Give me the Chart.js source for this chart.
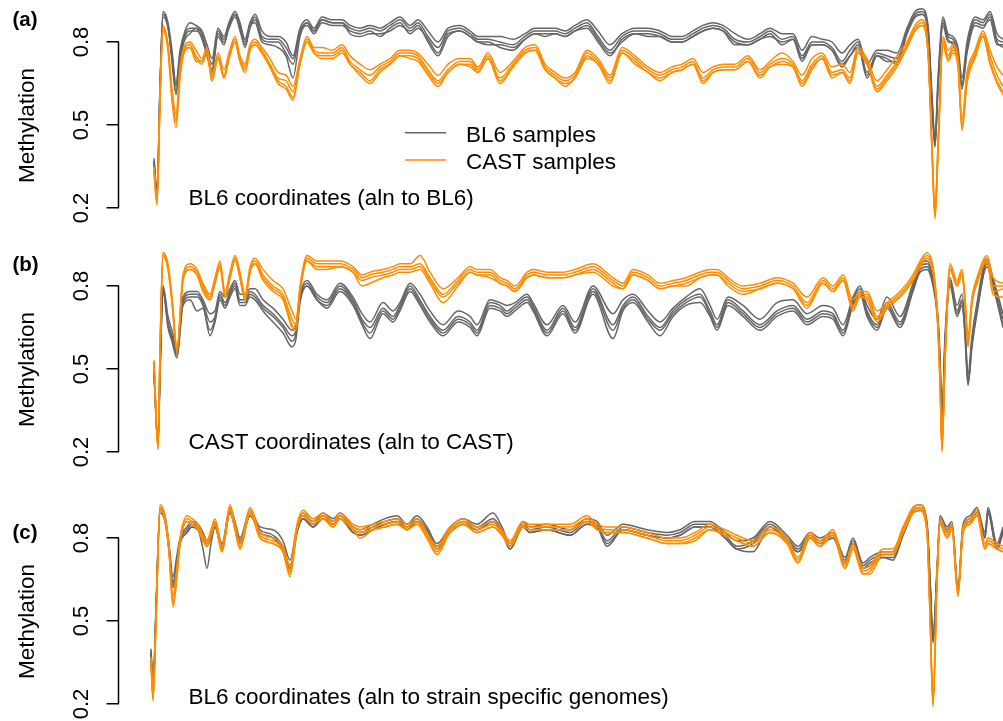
<!DOCTYPE html>
<html><head><meta charset="utf-8">
<script src="https://cdn.jsdelivr.net/npm/chart.js@4.4.0/dist/chart.umd.min.js"></script>
<style>
html,body{margin:0;padding:0;background:#fff;overflow:hidden;width:1003px;height:721px;}
canvas{position:absolute;left:0;}
</style></head><body>
<canvas id="pa" width="1003" height="232" style="top:0px"></canvas>
<canvas id="pb" width="1003" height="232" style="top:244px"></canvas>
<canvas id="pc" width="1003" height="232" style="top:496px"></canvas>
<script>
const tickVals=[0.2,0.5,0.8];
const tickLabels=['0.2','0.5','0.8'];
const yTitle='Methylation';
const seriesNames=['BL6 samples','CAST samples'];
const panelTags=['(a)','(b)','(c)'];
const panelNotes=['BL6 coordinates (aln to BL6)','CAST coordinates (aln to CAST)','BL6 coordinates (aln to strain specific genomes)'];

// ---- panel (a): BL6 coordinates, aligned to BL6 ----
const posA=[1,4,7,10,15,19,23,27,32,37,43,49,54,59,65,71,76,82,87,92,97,102,109,117,125,133,140,147,154,161,169,179,189,197,207,217,227,237,247,257,265,275,285,295,307,317,325,335,347,360,372,382,392,402,412,422,434,445,457,469,482,495,507,519,529,540,550,560,570,582,595,607,617,629,640,649,659,669,679,689,697,705,714,724,734,744,754,762,769,775,779,782,785,790,795,800,805,809,814,822,830,837,844,850];
const bl6A1=[.38,.26,.64,.91,.87,.77,.65,.77,.84,.87,.86,.84,.79,.74,.85,.82,.87,.91,.87,.81,.87,.90,.84,.82,.82,.80,.75,.85,.88,.85,.89,.88,.88,.86,.85,.86,.85,.87,.89,.86,.88,.84,.80,.85,.86,.84,.82,.82,.82,.81,.83,.85,.85,.85,.84,.86,.88,.84,.79,.83,.85,.85,.84,.82,.82,.84,.86,.87,.86,.83,.81,.83,.85,.83,.83,.77,.82,.81,.80,.76,.79,.81,.72,.77,.77,.76,.85,.91,.92,.86,.61,.45,.67,.89,.83,.82,.78,.67,.80,.89,.88,.91,.83,.81];
const bl6A2=[.37,.25,.63,.90,.86,.75,.64,.75,.83,.85,.85,.83,.77,.72,.84,.81,.86,.90,.86,.80,.86,.89,.82,.81,.81,.78,.74,.84,.87,.84,.88,.87,.87,.85,.84,.85,.84,.86,.88,.85,.87,.82,.78,.84,.85,.83,.81,.81,.80,.79,.82,.84,.84,.84,.83,.85,.87,.82,.77,.82,.84,.84,.83,.81,.81,.83,.85,.86,.85,.81,.80,.82,.84,.81,.82,.75,.80,.80,.78,.73,.77,.80,.69,.76,.75,.74,.84,.90,.91,.85,.59,.43,.65,.88,.82,.81,.76,.65,.78,.88,.87,.90,.81,.80];
const bl6A3=[.37,.24,.62,.89,.85,.74,.62,.73,.82,.84,.84,.82,.76,.70,.83,.80,.85,.89,.85,.78,.85,.88,.81,.80,.80,.76,.72,.83,.86,.83,.87,.86,.86,.84,.83,.84,.82,.85,.87,.83,.85,.81,.76,.83,.84,.82,.80,.80,.78,.77,.81,.83,.83,.83,.82,.84,.85,.80,.75,.81,.83,.83,.82,.80,.80,.82,.84,.85,.84,.79,.79,.81,.83,.79,.81,.73,.79,.79,.77,.71,.75,.79,.67,.75,.73,.73,.83,.89,.90,.84,.57,.42,.63,.87,.81,.79,.74,.63,.76,.86,.85,.89,.80,.78];
const bl6A4=[.36,.25,.63,.90,.86,.73,.61,.74,.81,.83,.85,.81,.75,.69,.82,.79,.86,.90,.84,.79,.86,.87,.80,.79,.78,.75,.67,.82,.87,.84,.88,.87,.87,.83,.82,.83,.83,.84,.86,.84,.86,.80,.75,.82,.84,.82,.80,.79,.79,.78,.81,.83,.82,.83,.82,.84,.86,.81,.76,.80,.83,.82,.82,.80,.80,.82,.84,.85,.84,.80,.79,.81,.82,.80,.81,.74,.79,.79,.77,.72,.75,.78,.68,.75,.74,.72,.83,.89,.90,.84,.58,.43,.64,.86,.80,.80,.75,.64,.77,.87,.86,.88,.79,.79];
const castA1=[.35,.22,.60,.86,.79,.63,.54,.71,.79,.80,.77,.74,.78,.68,.76,.70,.76,.82,.75,.72,.79,.81,.78,.74,.69,.68,.64,.74,.82,.78,.78,.77,.79,.75,.72,.70,.72,.74,.77,.77,.76,.72,.68,.72,.74,.74,.71,.76,.69,.73,.78,.79,.72,.69,.67,.69,.77,.74,.68,.78,.75,.71,.69,.71,.72,.74,.69,.71,.72,.72,.75,.70,.73,.76,.73,.68,.74,.76,.71,.72,.69,.78,.74,.66,.70,.75,.80,.86,.88,.78,.43,.17,.43,.82,.77,.79,.75,.52,.69,.77,.84,.77,.71,.68];
const castA2=[.34,.21,.59,.85,.78,.61,.52,.69,.78,.79,.75,.73,.77,.67,.75,.68,.75,.81,.74,.71,.78,.80,.77,.72,.67,.66,.62,.73,.81,.77,.76,.76,.78,.73,.70,.68,.71,.73,.76,.76,.75,.70,.66,.70,.73,.73,.70,.75,.67,.72,.77,.78,.71,.68,.66,.68,.76,.73,.67,.77,.74,.70,.68,.70,.71,.73,.67,.70,.71,.71,.74,.69,.72,.74,.72,.66,.72,.75,.69,.70,.67,.77,.73,.64,.68,.73,.79,.85,.87,.77,.41,.16,.41,.81,.75,.78,.73,.50,.67,.76,.83,.75,.68,.64];
const castA3=[.33,.22,.58,.84,.77,.59,.49,.67,.77,.78,.74,.72,.76,.66,.74,.67,.74,.80,.73,.70,.77,.79,.76,.71,.66,.64,.60,.72,.80,.76,.75,.75,.77,.72,.69,.66,.70,.72,.75,.75,.74,.69,.65,.69,.72,.72,.69,.74,.66,.71,.76,.77,.70,.67,.65,.67,.75,.72,.66,.76,.73,.69,.67,.69,.70,.72,.66,.69,.70,.70,.73,.68,.71,.73,.71,.65,.71,.74,.68,.69,.66,.76,.72,.63,.67,.72,.78,.84,.86,.76,.40,.17,.40,.80,.74,.77,.72,.48,.65,.75,.82,.73,.66,.62];
const castA4=[.34,.23,.59,.85,.78,.60,.51,.68,.77,.78,.73,.73,.76,.66,.74,.67,.74,.80,.73,.69,.77,.79,.76,.71,.65,.63,.59,.72,.80,.76,.74,.74,.76,.72,.68,.65,.69,.72,.75,.74,.73,.68,.64,.69,.72,.71,.69,.74,.65,.71,.76,.77,.70,.67,.64,.67,.74,.72,.65,.76,.72,.69,.66,.69,.70,.72,.65,.69,.70,.70,.73,.67,.71,.72,.71,.64,.70,.74,.67,.69,.65,.76,.72,.62,.66,.71,.78,.84,.86,.76,.42,.18,.42,.79,.73,.76,.71,.49,.66,.74,.82,.72,.65,.61];

// ---- panel (b): CAST coordinates, aligned to CAST ----
const posB=[1,5,7,10,15,19,24,30,37,44,50,57,62,67,72,77,82,87,92,97,102,110,120,130,139,143,147,154,164,174,187,200,209,217,230,240,247,257,267,277,290,305,317,324,337,347,354,362,374,380,394,410,422,440,460,470,480,495,507,520,533,547,557,564,575,590,607,624,640,654,670,680,690,700,707,714,724,734,747,760,767,774,780,784,787,789,792,797,804,809,812,815,819,824,834,840,850];
const bl6B1=[.50,.22,.50,.80,.69,.64,.57,.76,.78,.78,.75,.70,.71,.78,.76,.79,.82,.77,.77,.79,.79,.75,.72,.68,.64,.66,.77,.82,.77,.75,.81,.76,.70,.67,.74,.71,.74,.81,.77,.71,.66,.71,.69,.66,.75,.74,.73,.74,.77,.74,.66,.73,.67,.80,.70,.75,.77,.71,.67,.72,.76,.79,.73,.68,.76,.73,.68,.74,.75,.70,.73,.72,.66,.76,.80,.73,.68,.76,.69,.81,.88,.89,.83,.73,.55,.32,.62,.83,.73,.77,.66,.48,.62,.74,.90,.83,.70];
const bl6B2=[.49,.23,.48,.79,.67,.62,.56,.75,.77,.77,.74,.67,.69,.77,.74,.78,.81,.75,.75,.78,.77,.73,.70,.66,.62,.64,.76,.81,.76,.74,.80,.75,.68,.65,.72,.69,.73,.80,.75,.69,.64,.69,.67,.64,.74,.73,.71,.73,.76,.73,.64,.72,.65,.79,.66,.73,.76,.69,.65,.71,.75,.77,.71,.66,.75,.71,.66,.71,.73,.68,.71,.70,.64,.75,.79,.71,.66,.74,.67,.80,.87,.88,.82,.72,.53,.30,.60,.82,.71,.75,.64,.46,.60,.72,.89,.82,.68];
const bl6B3=[.48,.22,.47,.78,.65,.60,.54,.74,.76,.76,.73,.64,.68,.76,.73,.77,.80,.74,.74,.77,.76,.72,.69,.65,.60,.63,.75,.80,.75,.73,.79,.74,.67,.63,.71,.68,.72,.79,.74,.68,.63,.68,.66,.63,.73,.72,.70,.72,.75,.72,.63,.71,.64,.78,.64,.72,.75,.68,.64,.70,.74,.76,.70,.65,.74,.70,.65,.70,.72,.67,.70,.69,.63,.74,.78,.70,.65,.73,.66,.79,.86,.87,.81,.71,.51,.29,.58,.81,.70,.74,.62,.44,.58,.70,.88,.81,.66];
const bl6B4=[.49,.24,.49,.80,.66,.61,.55,.73,.75,.71,.72,.62,.67,.75,.72,.76,.79,.73,.73,.76,.75,.71,.67,.63,.58,.61,.74,.80,.75,.72,.78,.73,.66,.61,.70,.67,.71,.78,.73,.67,.62,.67,.65,.62,.72,.71,.69,.71,.74,.71,.62,.70,.63,.77,.61,.71,.74,.67,.62,.69,.73,.74,.69,.64,.73,.69,.64,.69,.71,.66,.69,.68,.62,.73,.77,.69,.64,.72,.65,.78,.85,.86,.80,.70,.52,.31,.59,.80,.69,.73,.63,.45,.59,.71,.87,.80,.65];
const castB1=[.53,.21,.57,.92,.88,.76,.58,.84,.88,.86,.81,.77,.83,.89,.78,.85,.91,.85,.77,.87,.90,.86,.82,.79,.71,.68,.80,.91,.89,.89,.89,.87,.84,.85,.86,.87,.88,.88,.91,.85,.79,.83,.87,.86,.86,.83,.82,.80,.85,.86,.85,.85,.86,.88,.83,.81,.86,.84,.81,.82,.83,.85,.86,.86,.83,.80,.81,.83,.81,.76,.83,.80,.84,.75,.78,.78,.71,.74,.78,.84,.89,.92,.87,.73,.47,.21,.54,.88,.82,.86,.76,.62,.76,.83,.91,.83,.81];
const castB2=[.53,.22,.56,.92,.87,.75,.57,.83,.87,.85,.80,.76,.82,.88,.77,.84,.90,.84,.76,.86,.89,.84,.80,.77,.68,.66,.79,.90,.88,.88,.88,.86,.83,.84,.85,.86,.87,.87,.88,.83,.77,.82,.86,.85,.85,.82,.81,.79,.84,.85,.84,.84,.85,.87,.82,.80,.85,.83,.80,.81,.82,.84,.85,.85,.82,.79,.80,.82,.80,.74,.82,.79,.83,.73,.77,.77,.69,.73,.77,.83,.88,.91,.86,.72,.46,.20,.53,.87,.81,.85,.75,.60,.75,.82,.90,.80,.80];
const castB3=[.52,.21,.55,.91,.86,.74,.56,.82,.86,.84,.79,.75,.81,.87,.76,.83,.90,.83,.75,.85,.88,.83,.79,.76,.66,.65,.78,.89,.87,.87,.87,.85,.82,.83,.84,.85,.86,.86,.87,.82,.76,.81,.85,.84,.84,.81,.80,.78,.83,.84,.83,.83,.84,.86,.81,.79,.84,.82,.79,.80,.81,.83,.84,.84,.81,.78,.79,.81,.79,.73,.81,.78,.82,.72,.76,.76,.68,.72,.76,.82,.87,.90,.85,.71,.45,.22,.52,.86,.80,.84,.74,.58,.74,.81,.89,.78,.79];
const castB4=[.53,.22,.56,.91,.86,.74,.57,.82,.86,.84,.78,.75,.81,.87,.76,.83,.89,.83,.75,.85,.88,.82,.78,.75,.65,.64,.78,.89,.86,.86,.87,.85,.80,.81,.83,.84,.85,.85,.86,.81,.74,.80,.85,.84,.83,.81,.80,.78,.83,.84,.83,.83,.84,.85,.80,.79,.84,.82,.79,.80,.80,.83,.84,.84,.80,.77,.79,.81,.79,.72,.81,.78,.82,.71,.76,.75,.67,.72,.76,.82,.87,.90,.85,.71,.46,.21,.53,.86,.80,.84,.74,.59,.74,.81,.89,.77,.76];

// ---- panel (c): BL6 coordinates, aligned to strain specific genomes ----
const posC=[-2,0,3,7,12,16,20,24,27,34,39,45,50,54,58,62,69,77,82,87,97,107,120,130,137,144,150,160,170,180,187,200,207,220,232,244,254,264,274,284,297,310,324,340,349,357,370,377,394,417,434,444,454,470,494,514,527,542,557,572,584,600,617,634,645,657,667,680,692,700,710,717,730,740,750,760,767,774,777,780,784,787,794,799,805,810,817,824,832,835,844,850];
const bl6C1=[.40,.26,.55,.91,.88,.78,.66,.74,.80,.84,.86,.85,.82,.79,.82,.86,.78,.91,.86,.80,.90,.84,.83,.79,.72,.84,.89,.86,.89,.87,.89,.84,.83,.85,.87,.88,.85,.88,.84,.78,.84,.87,.85,.89,.84,.78,.86,.84,.85,.83,.87,.86,.81,.85,.83,.82,.83,.86,.86,.82,.79,.80,.86,.81,.77,.82,.80,.82,.73,.80,.71,.73,.75,.75,.83,.91,.92,.86,.66,.44,.69,.88,.84,.86,.62,.85,.88,.91,.82,.91,.78,.84];
const bl6C2=[.39,.25,.54,.90,.87,.77,.64,.72,.79,.83,.85,.84,.81,.78,.81,.85,.77,.90,.85,.79,.89,.83,.81,.77,.70,.83,.88,.85,.88,.86,.88,.83,.82,.84,.86,.87,.84,.87,.83,.77,.83,.86,.84,.87,.83,.77,.85,.83,.84,.82,.86,.85,.79,.84,.82,.81,.82,.85,.85,.81,.77,.79,.85,.80,.76,.81,.79,.81,.72,.79,.70,.72,.74,.74,.82,.90,.91,.85,.65,.43,.68,.87,.83,.85,.61,.84,.87,.90,.81,.90,.77,.83];
const bl6C3=[.38,.24,.53,.89,.86,.76,.63,.71,.78,.82,.84,.83,.80,.77,.80,.84,.76,.89,.84,.78,.88,.82,.80,.76,.69,.82,.87,.84,.87,.85,.87,.82,.81,.83,.85,.86,.83,.86,.82,.76,.82,.85,.83,.86,.82,.76,.84,.82,.83,.81,.85,.84,.77,.83,.81,.80,.81,.84,.84,.80,.76,.78,.84,.79,.75,.80,.78,.80,.71,.78,.69,.71,.73,.73,.81,.89,.90,.84,.64,.42,.67,.86,.82,.84,.60,.83,.86,.89,.80,.89,.76,.82];
const bl6C4=[.39,.25,.54,.90,.87,.76,.62,.70,.78,.82,.84,.83,.76,.69,.78,.84,.76,.89,.84,.78,.88,.82,.80,.76,.68,.82,.87,.84,.87,.85,.87,.82,.81,.83,.85,.86,.83,.86,.82,.76,.82,.85,.83,.86,.82,.76,.84,.82,.83,.81,.85,.84,.78,.83,.81,.80,.81,.84,.84,.80,.76,.75,.84,.79,.75,.80,.78,.80,.71,.78,.69,.70,.73,.72,.81,.89,.90,.84,.64,.43,.67,.86,.82,.84,.60,.83,.86,.89,.80,.89,.76,.82];
const castC1=[.37,.23,.51,.92,.88,.77,.59,.70,.80,.88,.87,.85,.81,.79,.83,.87,.77,.92,.85,.78,.91,.82,.80,.77,.70,.85,.90,.87,.89,.86,.89,.85,.84,.85,.86,.87,.85,.87,.82,.77,.84,.87,.84,.86,.83,.79,.86,.85,.85,.85,.88,.85,.84,.84,.82,.80,.80,.82,.85,.83,.81,.79,.84,.80,.73,.82,.79,.83,.71,.78,.69,.70,.76,.76,.84,.91,.92,.84,.54,.20,.66,.87,.82,.85,.61,.84,.87,.90,.78,.80,.78,.77];
const castC2=[.36,.22,.50,.91,.87,.76,.57,.68,.79,.87,.86,.84,.80,.78,.82,.86,.76,.91,.84,.77,.90,.81,.79,.76,.68,.84,.89,.86,.88,.85,.88,.84,.83,.84,.85,.86,.84,.86,.81,.76,.83,.86,.83,.85,.82,.78,.85,.84,.84,.84,.87,.84,.83,.83,.81,.79,.79,.81,.84,.82,.80,.78,.83,.79,.72,.81,.78,.82,.70,.77,.68,.69,.75,.75,.83,.90,.91,.83,.53,.19,.65,.86,.81,.84,.60,.83,.86,.89,.77,.79,.77,.76];
const castC3=[.35,.21,.49,.90,.86,.75,.56,.67,.78,.86,.85,.83,.79,.77,.81,.85,.75,.90,.83,.76,.89,.80,.78,.75,.67,.83,.88,.85,.87,.84,.87,.83,.82,.83,.84,.85,.83,.85,.80,.75,.82,.85,.82,.84,.81,.77,.84,.83,.83,.83,.86,.83,.82,.82,.80,.78,.78,.80,.83,.81,.79,.77,.82,.78,.71,.80,.77,.81,.69,.76,.67,.68,.74,.74,.82,.89,.90,.82,.52,.20,.64,.85,.80,.83,.59,.82,.85,.88,.76,.78,.76,.75];
const castC4=[.36,.22,.50,.91,.87,.75,.55,.66,.78,.86,.85,.83,.79,.77,.81,.85,.75,.90,.83,.76,.89,.80,.78,.75,.66,.83,.88,.85,.87,.84,.87,.83,.80,.83,.84,.85,.83,.85,.80,.74,.82,.85,.82,.84,.81,.77,.84,.83,.83,.83,.86,.83,.82,.82,.80,.78,.78,.79,.83,.81,.79,.77,.82,.78,.71,.80,.77,.81,.69,.76,.67,.67,.74,.74,.82,.89,.90,.82,.53,.21,.64,.85,.80,.83,.59,.82,.85,.88,.76,.78,.76,.75];

const GRAY='#666666', ORANGE='#FF8C00';
const FONT='"Liberation Sans", Arial, Helvetica, sans-serif';

const panels=[
  {id:'pa',pos:posA,bl6:[bl6A1,bl6A2,bl6A3,bl6A4],cast:[castA1,castA2,castA3,castA4],tagY:25.5,noteY:205,legend:true},
  {id:'pb',pos:posB,bl6:[bl6B1,bl6B2,bl6B3,bl6B4],cast:[castB1,castB2,castB3,castB4],tagY:26.5,noteY:205,legend:false},
  {id:'pc',pos:posC,bl6:[bl6C1,bl6C2,bl6C3,bl6C4],cast:[castC1,castC2,castC3,castC4],tagY:43,noteY:208,legend:false}
];

function decor(p,idx){
  return {id:'decor'+idx, afterDraw(chart){
    const ctx=chart.ctx, ys=chart.scales.y, left=chart.chartArea.left;
    ctx.save();
    ctx.strokeStyle='#000'; ctx.lineWidth=1.5;
    ctx.beginPath();
    ctx.moveTo(left, ys.getPixelForValue(tickVals[0]));
    ctx.lineTo(left, ys.getPixelForValue(tickVals[tickVals.length-1]));
    ctx.stroke();
    ctx.fillStyle='#000';
    ctx.font='22px '+FONT;
    ctx.textAlign='center'; ctx.textBaseline='alphabetic';
    tickVals.forEach((v,i)=>{
      ctx.save(); ctx.translate(87.5, ys.getPixelForValue(v)); ctx.rotate(-Math.PI/2);
      ctx.fillText(tickLabels[i],0,0); ctx.restore();
    });
    ctx.font='22.5px '+FONT;
    ctx.save(); ctx.translate(33.5,125.5); ctx.rotate(-Math.PI/2); ctx.fillText(yTitle,0,0); ctx.restore();
    ctx.textAlign='left';
    ctx.fillText(panelNotes[idx],188.5,p.noteY);
    ctx.font='bold 20.5px '+FONT;
    ctx.fillText(panelTags[idx],12.5,p.tagY);
    if(p.legend){
      ctx.font='22.5px '+FONT;
      [[GRAY,132.7,141.5],[ORANGE,160,168.5]].forEach((l,k)=>{
        ctx.strokeStyle=l[0]; ctx.lineWidth=1.5;
        ctx.beginPath(); ctx.moveTo(405,l[1]); ctx.lineTo(446,l[1]); ctx.stroke();
        ctx.fillStyle='#000'; ctx.fillText(seriesNames[k],466,l[2]);
      });
    }
    ctx.restore();
  }};
}

panels.forEach((p,idx)=>{
  const ds=[];
  p.cast.forEach(a=>ds.push({data:p.pos.map((x,i)=>({x:x,y:a[i]})),borderColor:ORANGE,order:0}));
  p.bl6.forEach(a=>ds.push({data:p.pos.map((x,i)=>({x:x,y:a[i]})),borderColor:GRAY,order:1}));
  new Chart(document.getElementById(p.id),{
    type:'line',
    data:{datasets:ds},
    options:{
      responsive:false,animation:false,events:[],
      layout:{padding:{left:106.5,right:0,top:0.5,bottom:4.6}},
      elements:{line:{borderWidth:1.5,cubicInterpolationMode:'monotone',fill:false},point:{radius:0,hoverRadius:0}},
      plugins:{legend:{display:false},tooltip:{enabled:false}},
      scales:{
        x:{type:'linear',display:false,min:-34.5,max:850},
        y:{type:'linear',min:0.13,max:0.95,
           afterBuildTicks:s=>{s.ticks=tickVals.map(v=>({value:v}));},
           afterFit:s=>{s.width=12;},
           ticks:{display:false},
           border:{display:false},
           grid:{drawOnChartArea:false,drawTicks:true,tickLength:12,color:'#000',lineWidth:1.5}
        }
      }
    },
    plugins:[decor(p,idx)]
  });
});
</script>
</body></html>
